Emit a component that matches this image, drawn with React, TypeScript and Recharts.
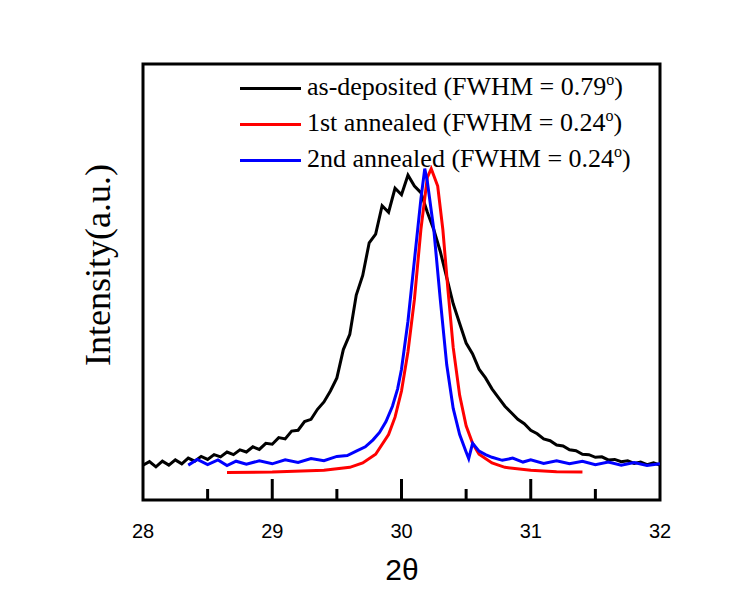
import React from 'react';
import { LineChart, Line, XAxis, YAxis, ReferenceArea, Legend } from 'recharts';

const xTicks = [28, 28.5, 29, 29.5, 30, 30.5, 31, 31.5, 32];

const asDepX = [28.0, 28.05, 28.1, 28.15, 28.2, 28.25, 28.3, 28.35, 28.4, 28.45, 28.5, 28.55, 28.6, 28.65, 28.7, 28.75, 28.8, 28.85, 28.9, 28.95, 29.0, 29.05, 29.1, 29.15, 29.2, 29.25, 29.3, 29.35, 29.4, 29.45, 29.5, 29.55, 29.6, 29.65, 29.7, 29.75, 29.8, 29.85, 29.9, 29.95, 30.0, 30.05, 30.1, 30.15, 30.2, 30.25, 30.3, 30.35, 30.4, 30.45, 30.5, 30.55, 30.6, 30.65, 30.7, 30.75, 30.8, 30.85, 30.9, 30.95, 31.0, 31.05, 31.1, 31.15, 31.2, 31.25, 31.3, 31.35, 31.4, 31.45, 31.5, 31.55, 31.6, 31.65, 31.7, 31.75, 31.8, 31.85, 31.9, 31.95, 32.0];
const asDepY = [8.0, 8.8, 7.6, 8.9, 8.0, 9.2, 8.3, 9.6, 8.9, 10.0, 9.3, 10.4, 9.9, 11.0, 10.4, 11.5, 11.0, 12.2, 11.6, 13.0, 12.8, 14.3, 14.0, 15.8, 16.0, 18.0, 18.5, 20.8, 22.5, 25.0, 28.0, 34.5, 38.0, 47.0, 51.5, 59.0, 61.0, 67.5, 66.0, 71.5, 70.0, 74.5, 72.0, 70.5, 66.0, 62.0, 57.0, 51.0, 45.0, 40.5, 36.0, 33.5, 30.0, 28.0, 25.5, 23.5, 21.5, 20.0, 18.5, 17.5, 16.0, 15.2, 14.0, 13.6, 12.6, 12.4, 11.5, 11.3, 10.5, 10.4, 9.8, 9.9, 9.2, 9.3, 8.8, 9.0, 8.4, 8.7, 8.1, 8.5, 8.0];

const ann1X = [28.65, 29.0, 29.4, 29.6, 29.7, 29.8, 29.9, 29.95, 30.0, 30.05, 30.1, 30.15, 30.2, 30.23, 30.28, 30.32, 30.36, 30.4, 30.45, 30.5, 30.55, 30.6, 30.7, 30.8, 31.0, 31.2, 31.4];
const ann1Y = [6.3, 6.4, 6.8, 7.5, 8.5, 10.5, 15, 19, 25, 34, 46, 62, 74, 76, 72, 62, 48, 35, 24, 17, 13, 10.5, 8.5, 7.5, 6.8, 6.5, 6.4];

const ann2X = [28.35, 28.42, 28.5, 28.58, 28.65, 28.72, 28.8, 28.9, 29.0, 29.1, 29.2, 29.3, 29.4, 29.5, 29.58, 29.65, 29.72, 29.78, 29.83, 29.88, 29.93, 29.97, 30.0, 30.05, 30.1, 30.15, 30.18, 30.2, 30.25, 30.3, 30.35, 30.4, 30.45, 30.5, 30.52, 30.55, 30.6, 30.65, 30.7, 30.78, 30.86, 30.94, 31.0, 31.1, 31.2, 31.3, 31.4, 31.5, 31.6, 31.7, 31.8, 31.9, 32.0];
const ann2Y = [8.0, 9.3, 8.1, 9.2, 7.9, 8.9, 8.2, 9.0, 8.3, 9.2, 8.6, 9.5, 9.0, 10.0, 10.2, 11.2, 12.2, 13.8, 15.5, 18.0, 21.5, 25.5, 30.0, 41.0, 55.0, 69.0, 76.0, 73.0, 62.0, 46.0, 31.0, 21.0, 15.0, 11.0, 9.5, 13.0, 11.2, 10.4, 9.8, 9.1, 9.6, 8.7, 9.2, 8.4, 9.0, 8.3, 8.9, 8.1, 8.7, 8.0, 8.6, 7.9, 8.3];

const toPts = (xs: number[], ys: number[]) => xs.map((x, i) => ({ x, y: ys[i] }));
const asDep = toPts(asDepX, asDepY);
const ann1 = toPts(ann1X, ann1Y);
const ann2 = toPts(ann2X, ann2Y);

const legendItems = [
  { name: 'as-deposited (FWHM = 0.79', color: '#000000' },
  { name: '1st annealed (FWHM = 0.24', color: '#ff0000' },
  { name: '2nd annealed (FWHM = 0.24', color: '#0000ff' },
];

const serif = '"Liberation Serif", "Times New Roman", serif';
const sans = '"Liberation Sans", Arial, sans-serif';

const XTick = (props: any) => {
  const { x, y, payload } = props;
  const v = payload.value;
  const major = Math.abs(v - Math.round(v)) < 1e-6;
  const len = major ? 21 : 11;
  const edge = v === 28 || v === 32;
  return (
    <g>
      {!edge && <line x1={x} x2={x} y1={y} y2={y - len} stroke="#000" strokeWidth={3} />}
      {major && (
        <text x={x} y={y + 38} textAnchor="middle" fontFamily={sans} fontSize={20} fill="#000">
          {v}
        </text>
      )}
    </g>
  );
};

const LegendContent = () => (
  <div style={{ fontFamily: serif, fontSize: 26, color: '#000' }}>
    {legendItems.map((it) => (
      <div key={it.name} style={{ display: 'flex', alignItems: 'center', height: 36 }}>
        <div style={{ width: 61, height: 3, background: it.color, marginRight: 6 }} />
        <span style={{ whiteSpace: 'nowrap', lineHeight: '36px' }}>
          {it.name}
          <span style={{ fontSize: 16, position: 'relative', top: -10 }}>o</span>)
        </span>
      </div>
    ))}
  </div>
);

export default function App() {
  return (
    <div style={{ position: 'absolute', left: 0, top: 0, width: 752, height: 596, background: '#fff' }}>
      <LineChart width={752} height={596} margin={{ top: 64, right: 92, bottom: 66, left: 60 }}>
        <XAxis
          type="number"
          dataKey="x"
          domain={[28, 32]}
          ticks={xTicks}
          tick={<XTick />}
          tickLine={false}
          tickSize={0}
          tickMargin={0}
          axisLine={false}
          interval={0}
          allowDataOverflow
          label={(p: any) => (
            <text x={402} y={580} textAnchor="middle" fontFamily={sans} fontSize={30} fill="#000">
              2θ
            </text>
          )}
        />
        <YAxis
          type="number"
          domain={[0, 100]}
          width={83}
          tick={false}
          tickLine={false}
          axisLine={false}
          allowDataOverflow
          label={(p: any) => (
            <text
              x={110}
              y={265}
              transform="rotate(-90, 110, 265)"
              textAnchor="middle"
              fontFamily={serif}
              fontSize={36}
              fill="#000"
            >
              Intensity(a.u.)
            </text>
          )}
        />
        <ReferenceArea x1={28} x2={32} y1={0} y2={100} fill="none" stroke="#000" strokeWidth={3} ifOverflow="visible" />
        <Line data={asDep} dataKey="y" stroke="#000000" strokeWidth={3} dot={false} isAnimationActive={false} type="linear" />
        <Line data={ann1} dataKey="y" stroke="#ff0000" strokeWidth={3} dot={false} isAnimationActive={false} type="linear" />
        <Line data={ann2} dataKey="y" stroke="#0000ff" strokeWidth={3} dot={false} isAnimationActive={false} type="linear" />
        <Legend
          content={<LegendContent />}
          layout="vertical"
          verticalAlign="middle"
          align="center"
          wrapperStyle={{ position: 'absolute', left: 240, top: 70, width: 420 }}
        />
      </LineChart>
    </div>
  );
}
